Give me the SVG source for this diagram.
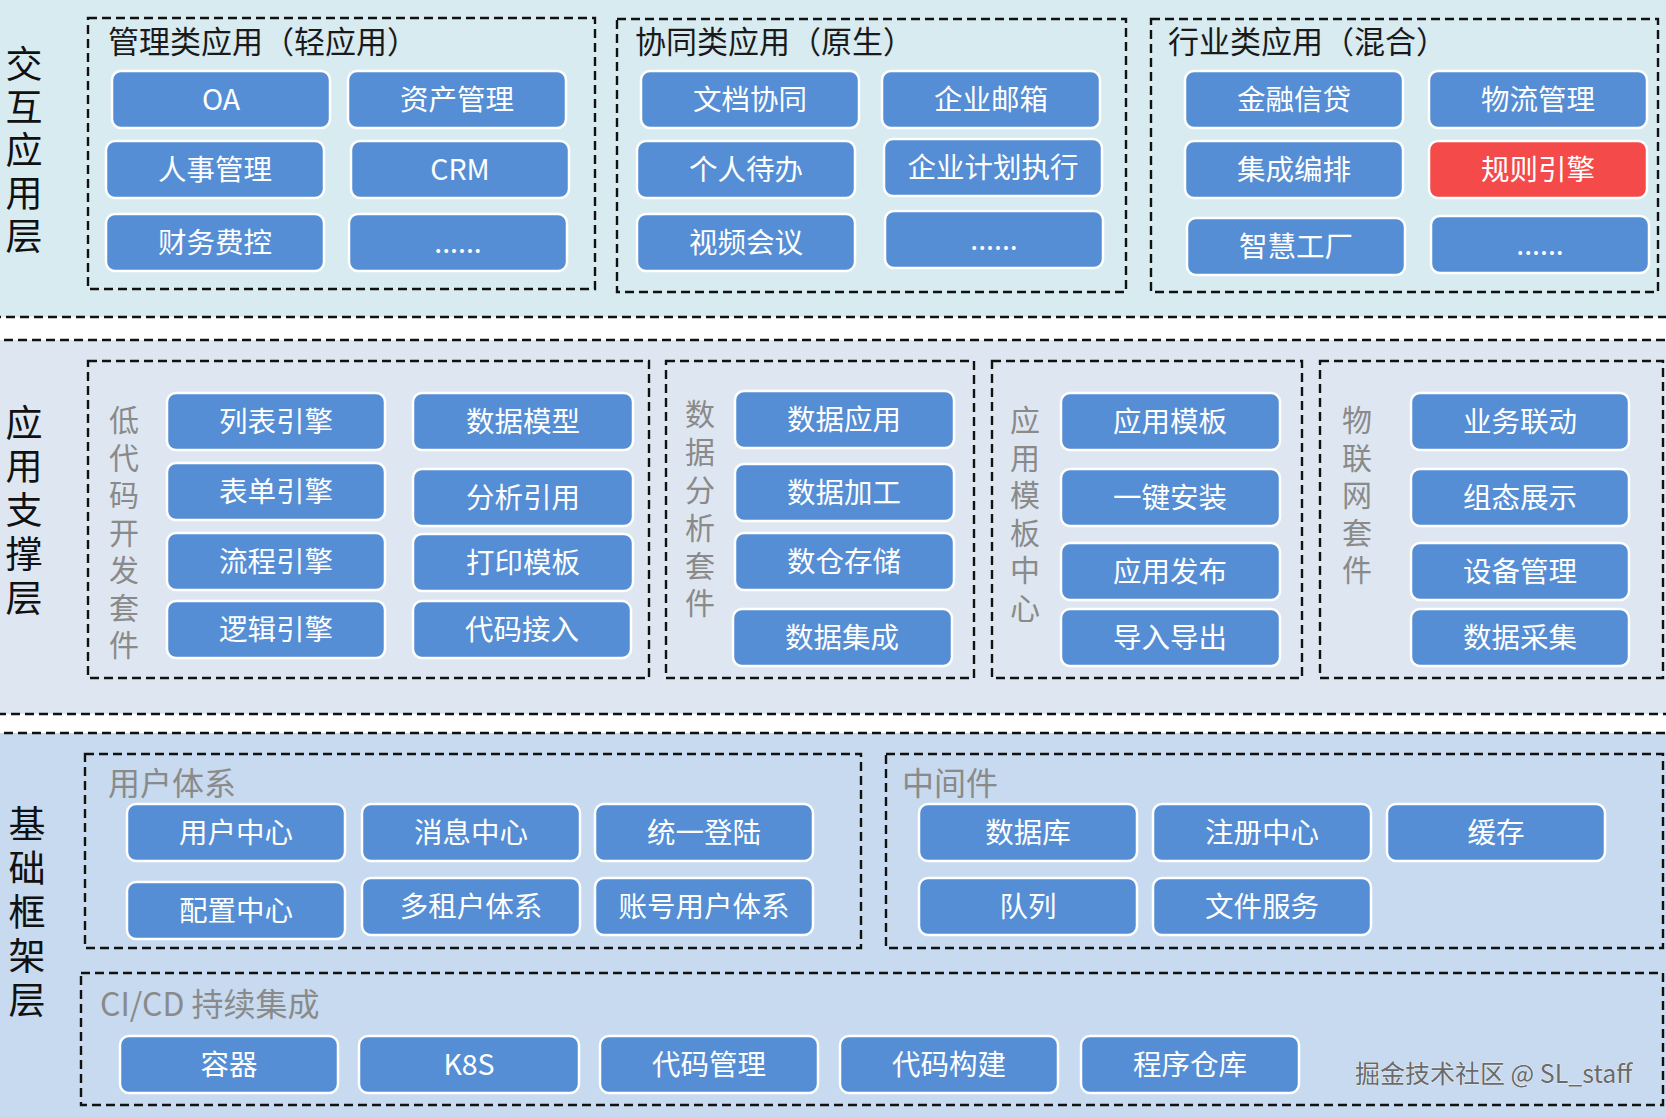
<svg xmlns="http://www.w3.org/2000/svg" width="1666" height="1117" viewBox="0 0 1666 1117">
<style>
text{font-family:"Noto Sans CJK SC","Noto Sans",sans-serif}
.band{stroke:#111;stroke-width:2.4;stroke-dasharray:9 5}
.grp{fill:none;stroke:#111;stroke-width:2.4;stroke-dasharray:9 5}
.node rect{fill:#558ed5;stroke:#fff;stroke-width:2.5}
.node.red rect{fill:#f44a4a}
.node text{fill:#fff;font-size:28.5px;text-anchor:middle;dominant-baseline:central;transform:translateY(-2.5px)}
.layer{fill:#111;font-size:37px;writing-mode:vertical-rl}
.gt{fill:#1a1a1a;font-size:31px}
.gl{fill:#8a8a8a;font-size:32px}
.gv{fill:#8a8a8a;font-size:30px;writing-mode:vertical-rl;letter-spacing:7.5px}
.wm{fill:#6a6a6a;font-size:25px;stroke:#fff;stroke-width:0.6;paint-order:stroke}
</style>
<rect width="1666" height="1117" fill="#ffffff"/>
<!-- layer bands -->
<rect class="band" x="-10" y="-10" width="1690" height="327" fill="#d8ebf1"/>
<rect class="band" x="-10" y="340" width="1690" height="374" fill="#dee7f1"/>
<rect class="band" x="-10" y="733" width="1690" height="400" fill="#c7daef"/>

<g id="layer-labels">
<text class="layer" x="24" y="45" style="letter-spacing:6px">交互应用层</text>
<text class="layer" x="24" y="404" style="letter-spacing:6.8px">应用支撑层</text>
<text class="layer" x="27" y="805" style="letter-spacing:7px">基础框架层</text>
</g>

<g id="connectors"></g>

<!-- Top groups -->
<g id="grp-manage">
<rect class="grp" x="88" y="18" width="507" height="271"/>
<text class="gt" x="108" y="53">管理类应用（轻应用）</text>
</g>
<g id="grp-collab">
<rect class="grp" x="617" y="19" width="509" height="273"/>
<text class="gt" x="635" y="53">协同类应用（原生）</text>
</g>
<g id="grp-industry">
<rect class="grp" x="1151" y="19" width="507" height="273"/>
<text class="gt" x="1168" y="53">行业类应用（混合）</text>
</g>

<g id="n-oa" class="node"><rect x="112" y="71" width="218" height="57" rx="9"/><text x="221" y="99.5">OA</text></g>
<g id="n-zcgl" class="node"><rect x="348" y="71" width="218" height="57" rx="9"/><text x="457" y="99.5">资产管理</text></g>
<g id="n-rsgl" class="node"><rect x="106" y="141" width="218" height="57" rx="9"/><text x="215" y="169.5">人事管理</text></g>
<g id="n-crm" class="node"><rect x="351" y="141" width="218" height="57" rx="9"/><text x="460" y="169.5">CRM</text></g>
<g id="n-cwfk" class="node"><rect x="106" y="214" width="218" height="57" rx="9"/><text x="215" y="242.5">财务费控</text></g>
<g id="n-more1" class="node"><rect x="349" y="214" width="218" height="57" rx="9"/><text x="458" y="242.5">......</text></g>

<g id="n-wdxt" class="node"><rect x="641" y="71" width="218" height="57" rx="9"/><text x="750" y="99.5">文档协同</text></g>
<g id="n-qyyx" class="node"><rect x="882" y="71" width="218" height="57" rx="9"/><text x="991" y="99.5">企业邮箱</text></g>
<g id="n-grdb" class="node"><rect x="637" y="141" width="218" height="57" rx="9"/><text x="746" y="169.5">个人待办</text></g>
<g id="n-qyjh" class="node"><rect x="884" y="139" width="218" height="57" rx="9"/><text x="993" y="167.5">企业计划执行</text></g>
<g id="n-sphy" class="node"><rect x="637" y="214" width="218" height="57" rx="9"/><text x="746" y="242.5">视频会议</text></g>
<g id="n-more2" class="node"><rect x="885" y="211" width="218" height="57" rx="9"/><text x="994" y="239.5">......</text></g>

<g id="n-jrxd" class="node"><rect x="1185" y="71" width="218" height="57" rx="9"/><text x="1294" y="99.5">金融信贷</text></g>
<g id="n-wlgl" class="node"><rect x="1429" y="71" width="218" height="57" rx="9"/><text x="1538" y="99.5">物流管理</text></g>
<g id="n-jcbp" class="node"><rect x="1185" y="141" width="218" height="57" rx="9"/><text x="1294" y="169.5">集成编排</text></g>
<g id="n-gzyq" class="node red"><rect x="1429" y="141" width="218" height="57" rx="9"/><text x="1538" y="169.5">规则引擎</text></g>
<g id="n-zhgc" class="node"><rect x="1187" y="218" width="218" height="57" rx="9"/><text x="1296" y="246.5">智慧工厂</text></g>
<g id="n-more3" class="node"><rect x="1431" y="216" width="218" height="57" rx="9"/><text x="1540" y="244.5">......</text></g>

<!-- Middle groups -->
<g id="grp-lowcode">
<rect class="grp" x="88" y="361" width="561" height="317"/>
<text class="gv" x="124" y="405">低代码开发套件</text>
</g>
<g id="grp-data">
<rect class="grp" x="666" y="361" width="308" height="317"/>
<text class="gv" x="700" y="399" style="letter-spacing:7.8px">数据分析套件</text>
</g>
<g id="grp-tpl">
<rect class="grp" x="992" y="361" width="310" height="317"/>
<text class="gv" x="1025" y="405">应用模板中心</text>
</g>
<g id="grp-iot">
<rect class="grp" x="1320" y="361" width="343" height="317"/>
<text class="gv" x="1357" y="405">物联网套件</text>
</g>

<g id="n-lbyq" class="node"><rect x="167" y="393" width="218" height="57" rx="9"/><text x="276" y="421.5">列表引擎</text></g>
<g id="n-sjmx" class="node"><rect x="413" y="393" width="220" height="57" rx="9"/><text x="523" y="421.5">数据模型</text></g>
<g id="n-bdyq" class="node"><rect x="167" y="463" width="218" height="57" rx="9"/><text x="276" y="491.5">表单引擎</text></g>
<g id="n-fxyy" class="node"><rect x="413" y="469" width="220" height="57" rx="9"/><text x="523" y="497.5">分析引用</text></g>
<g id="n-lcyq" class="node"><rect x="167" y="533" width="218" height="57" rx="9"/><text x="276" y="561.5">流程引擎</text></g>
<g id="n-dymb" class="node"><rect x="413" y="534" width="220" height="57" rx="9"/><text x="523" y="562.5">打印模板</text></g>
<g id="n-ljyq" class="node"><rect x="167" y="601" width="218" height="57" rx="9"/><text x="276" y="629.5">逻辑引擎</text></g>
<g id="n-dmjr" class="node"><rect x="413" y="601" width="218" height="57" rx="9"/><text x="522" y="629.5">代码接入</text></g>

<g id="n-sjyy" class="node"><rect x="735" y="391" width="219" height="57" rx="9"/><text x="844" y="419.5">数据应用</text></g>
<g id="n-sjjg" class="node"><rect x="735" y="464" width="219" height="57" rx="9"/><text x="844" y="492.5">数据加工</text></g>
<g id="n-sccc" class="node"><rect x="735" y="533" width="219" height="57" rx="9"/><text x="844" y="561.5">数仓存储</text></g>
<g id="n-sjjc" class="node"><rect x="733" y="609" width="219" height="57" rx="9"/><text x="842" y="637.5">数据集成</text></g>

<g id="n-yymb" class="node"><rect x="1061" y="393" width="219" height="57" rx="9"/><text x="1170" y="421.5">应用模板</text></g>
<g id="n-yjaz" class="node"><rect x="1061" y="469" width="219" height="57" rx="9"/><text x="1170" y="497.5">一键安装</text></g>
<g id="n-yyfb" class="node"><rect x="1061" y="543" width="219" height="57" rx="9"/><text x="1170" y="571.5">应用发布</text></g>
<g id="n-drdc" class="node"><rect x="1061" y="609" width="219" height="57" rx="9"/><text x="1170" y="637.5">导入导出</text></g>

<g id="n-ywld" class="node"><rect x="1411" y="393" width="218" height="57" rx="9"/><text x="1520" y="421.5">业务联动</text></g>
<g id="n-ztzs" class="node"><rect x="1411" y="469" width="218" height="57" rx="9"/><text x="1520" y="497.5">组态展示</text></g>
<g id="n-sbgl" class="node"><rect x="1411" y="543" width="218" height="57" rx="9"/><text x="1520" y="571.5">设备管理</text></g>
<g id="n-sjcj" class="node"><rect x="1411" y="609" width="218" height="57" rx="9"/><text x="1520" y="637.5">数据采集</text></g>

<!-- Bottom groups -->
<g id="grp-user">
<rect class="grp" x="85" y="754" width="776" height="194"/>
<text class="gl" x="108" y="795">用户体系</text>
</g>
<g id="grp-mw">
<rect class="grp" x="886" y="754" width="777" height="194"/>
<text class="gl" x="902" y="795">中间件</text>
</g>
<g id="grp-cicd">
<rect class="grp" x="81" y="973" width="1582" height="132"/>
<text class="gl" x="100" y="1016">CI/CD 持续集成</text>
</g>

<g id="n-yhzx" class="node"><rect x="127" y="804" width="218" height="57" rx="9"/><text x="236" y="832.5">用户中心</text></g>
<g id="n-xxzx" class="node"><rect x="362" y="804" width="218" height="57" rx="9"/><text x="471" y="832.5">消息中心</text></g>
<g id="n-tydl" class="node"><rect x="595" y="804" width="218" height="57" rx="9"/><text x="704" y="832.5">统一登陆</text></g>
<g id="n-pzzx" class="node"><rect x="127" y="882" width="218" height="57" rx="9"/><text x="236" y="910.5">配置中心</text></g>
<g id="n-dzh" class="node"><rect x="362" y="878" width="218" height="57" rx="9"/><text x="471" y="906.5">多租户体系</text></g>
<g id="n-zhyh" class="node"><rect x="595" y="878" width="218" height="57" rx="9"/><text x="704" y="906.5">账号用户体系</text></g>

<g id="n-sjk" class="node"><rect x="919" y="804" width="218" height="57" rx="9"/><text x="1028" y="832.5">数据库</text></g>
<g id="n-zczx" class="node"><rect x="1153" y="804" width="218" height="57" rx="9"/><text x="1262" y="832.5">注册中心</text></g>
<g id="n-hc" class="node"><rect x="1387" y="804" width="218" height="57" rx="9"/><text x="1496" y="832.5">缓存</text></g>
<g id="n-dl" class="node"><rect x="919" y="878" width="218" height="57" rx="9"/><text x="1028" y="906.5">队列</text></g>
<g id="n-wjfw" class="node"><rect x="1153" y="878" width="218" height="57" rx="9"/><text x="1262" y="906.5">文件服务</text></g>

<g id="n-rq" class="node"><rect x="120" y="1036" width="218" height="57" rx="9"/><text x="229" y="1064.5">容器</text></g>
<g id="n-k8s" class="node"><rect x="359" y="1036" width="220" height="57" rx="9"/><text x="469" y="1064.5">K8S</text></g>
<g id="n-dmgl" class="node"><rect x="600" y="1036" width="218" height="57" rx="9"/><text x="709" y="1064.5">代码管理</text></g>
<g id="n-dmgj" class="node"><rect x="840" y="1036" width="218" height="57" rx="9"/><text x="949" y="1064.5">代码构建</text></g>
<g id="n-cxck" class="node"><rect x="1081" y="1036" width="218" height="57" rx="9"/><text x="1190" y="1064.5">程序仓库</text></g>

<text class="wm" x="1355" y="1083">掘金技术社区 @ SL_staff</text>
</svg>
